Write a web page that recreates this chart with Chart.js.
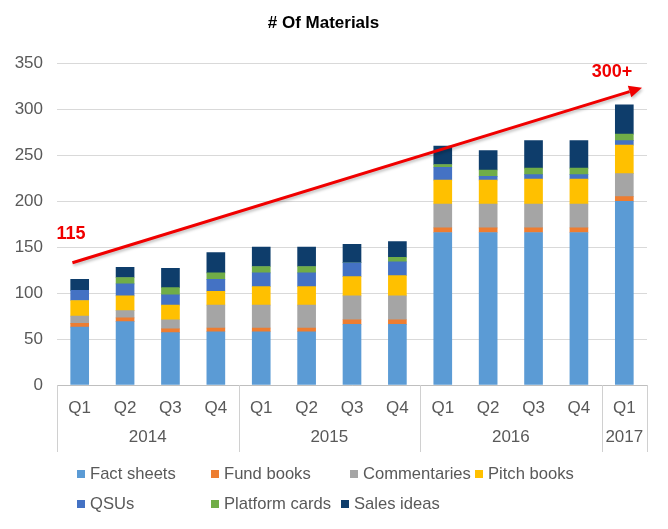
<!DOCTYPE html>
<html>
<head>
<meta charset="utf-8">
<script src="https://cdn.jsdelivr.net/npm/chart.js@4/dist/chart.umd.min.js"></script>
<style>
  html, body { margin: 0; padding: 0; background: #fff; }
  #wrap { position: relative; width: 668px; height: 529px; }
  canvas { display: block; }
  .lg { position: absolute; font-family: "Liberation Sans", Arial, sans-serif; font-size: 16.6px; color: #595959; line-height: 20px; white-space: nowrap; }
  .lg i { display: inline-block; width: 8px; height: 8px; margin-right: 5px; vertical-align: 1px; }
</style>
</head>
<body>
<div id="wrap">
  <canvas id="c" width="668" height="529"></canvas>
  <div id="legend"></div>
</div>
<script>
// ---- data ----
const quarters = ['Q1','Q2','Q3','Q4','Q1','Q2','Q3','Q4','Q1','Q2','Q3','Q4','Q1'];
const years = ['2014','2015','2016','2017'];
const yearSizes = [4, 4, 4, 1];

const factSheets    = [63, 69, 57, 58, 58, 58, 66, 66, 166, 166, 166, 166, 200];
const fundBooks     = [4, 4, 4, 4, 4, 4, 5, 5, 5, 5, 5, 5, 5];
const commentaries  = [8, 8, 10, 25, 25, 25, 26, 26, 26, 26, 26, 26, 25];
const pitchBooks    = [17, 16, 16, 15, 20, 20, 21, 22, 26, 26, 27, 27, 31];
const qsus          = [11, 13, 11, 13, 15, 15, 15, 15, 14, 4, 5, 5, 5];
const platformCards = [0, 7, 8, 7, 7, 7, 0, 5, 3, 7, 7, 7, 7];
const salesIdeas    = [12, 11, 21, 22, 21, 21, 20, 17, 20, 21, 30, 30, 32];

const seriesNames  = ['Fact sheets','Fund books','Commentaries','Pitch books','QSUs','Platform cards','Sales ideas'];
const seriesColors = ['#5B9BD5','#ED7D31','#A5A5A5','#FFC000','#4472C4','#70AD47','#0E3D6B'];
const seriesData   = [factSheets, fundBooks, commentaries, pitchBooks, qsus, platformCards, salesIdeas];

const yTicks = [0, 50, 100, 150, 200, 250, 300, 350];

// trend arrow (category index, value)
const arrowFrom = [-0.16, 133];
const arrowTo   = [12.39, 323.5];
const notes = [
  { text: '115',  at: [-0.19, 164.5] },
  { text: '300+', at: [11.73, 341] }
];

const FONT = '"Liberation Sans", Arial, sans-serif';
const GREY = '#595959';

// legend (HTML, real text)
const legendPos = [[77,464],[211,464],[350,464],[475,464],[77,494],[211,494],[341,494]];
const lg = document.getElementById('legend');
seriesNames.forEach((n, i) => {
  const d = document.createElement('div');
  d.className = 'lg';
  d.style.left = legendPos[i][0] + 'px';
  d.style.top = legendPos[i][1] + 'px';
  d.innerHTML = '<i style="background:' + seriesColors[i] + '"></i>' + n;
  lg.appendChild(d);
});

const extras = {
  id: 'extras',
  afterDatasetsDraw(chart) {
    const ctx = chart.ctx, x = chart.scales.x, y = chart.scales.y;
    const bottom = chart.chartArea.bottom;
    ctx.save();
    // group separators and year labels
    ctx.strokeStyle = '#D0D0D0';
    ctx.lineWidth = 1;
    let start = 0;
    const bounds = [-0.5];
    yearSizes.forEach(s => { start += s; bounds.push(start - 0.5); });
    bounds.forEach(b => {
      const px = Math.round(x.getPixelForValue(b)) + 0.5;
      ctx.beginPath(); ctx.moveTo(px, bottom); ctx.lineTo(px, 452); ctx.stroke();
    });
    ctx.fillStyle = GREY;
    ctx.font = '17px ' + FONT;
    ctx.textAlign = 'center';
    ctx.textBaseline = 'middle';
    let s0 = 0;
    years.forEach((yr, i) => {
      const mid = s0 + (yearSizes[i] - 1) / 2;
      ctx.fillText(yr, x.getPixelForValue(mid), 437);
      s0 += yearSizes[i];
    });
    // arrow
    const x1 = x.getPixelForValue(arrowFrom[0]), y1 = y.getPixelForValue(arrowFrom[1]);
    const x2 = x.getPixelForValue(arrowTo[0]),   y2 = y.getPixelForValue(arrowTo[1]);
    const ang = Math.atan2(y2 - y1, x2 - x1);
    const hl = 13, hw = 6;
    const bx = x2 - hl * Math.cos(ang), by = y2 - hl * Math.sin(ang);
    ctx.strokeStyle = '#F00000';
    ctx.fillStyle = '#F00000';
    ctx.lineWidth = 3;
    ctx.shadowColor = 'rgba(0,0,0,0.25)';
    ctx.shadowBlur = 3;
    ctx.shadowOffsetX = 1;
    ctx.shadowOffsetY = 2;
    ctx.beginPath(); ctx.moveTo(x1, y1); ctx.lineTo(bx, by); ctx.stroke();
    ctx.beginPath();
    ctx.moveTo(x2, y2);
    ctx.lineTo(bx + hw * Math.sin(ang), by - hw * Math.cos(ang));
    ctx.lineTo(bx - hw * Math.sin(ang), by + hw * Math.cos(ang));
    ctx.closePath(); ctx.fill();
    ctx.shadowColor = 'transparent';
    ctx.font = 'bold 18px ' + FONT;
    ctx.fillStyle = '#F00000';
    notes.forEach(n => {
      ctx.fillText(n.text, x.getPixelForValue(n.at[0]), y.getPixelForValue(n.at[1]));
    });
    ctx.restore();
  }
};

new Chart(document.getElementById('c'), {
  type: 'bar',
  data: {
    labels: quarters,
    datasets: seriesNames.map((n, i) => ({
      label: n,
      data: seriesData[i],
      backgroundColor: seriesColors[i],
      borderWidth: 0,
      barThickness: 18
    }))
  },
  options: {
    responsive: false,
    animation: false,
    devicePixelRatio: 1,
    layout: { padding: { left: 0, right: 21, top: 0, bottom: 0 } },
    plugins: {
      legend: { display: false },
      tooltip: { enabled: false },
      title: {
        display: true,
        text: '# Of Materials',
        color: '#000',
        font: { family: FONT, size: 17, weight: 'bold' },
        padding: { top: 13, bottom: 30 }
      }
    },
    scales: {
      x: {
        stacked: true,
        grid: { display: false, drawTicks: false },
        border: { display: true, color: '#BFBFBF', width: 1 },
        ticks: { color: GREY, font: { family: FONT, size: 17 }, padding: 13, maxRotation: 0, autoSkip: false },
        afterFit(s) { s.height = 144; }
      },
      y: {
        stacked: true,
        min: 0, max: 350,
        afterBuildTicks(s) { s.ticks = yTicks.map(v => ({ value: v })); },
        grid: { color: '#D9D9D9', drawTicks: false },
        border: { display: false },
        ticks: { color: GREY, font: { family: FONT, size: 17 }, padding: 14 },
        afterFit(s) { s.width = 57; }
      }
    }
  },
  plugins: [extras]
});
</script>
</body>
</html>
